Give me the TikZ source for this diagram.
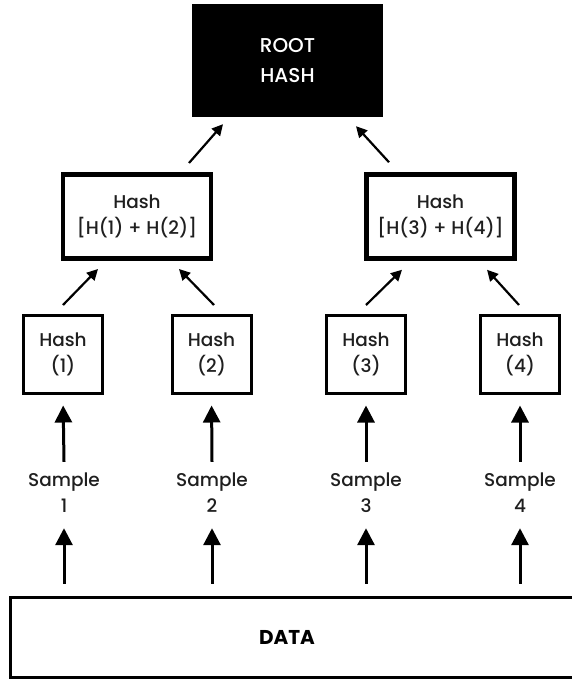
\documentclass[tikz,border=0pt]{standalone}
\usepackage{fontspec}
\setmainfont{Poppins}[UprightFont=* Medium, BoldFont=* Bold]
\usetikzlibrary{arrows.meta}
\begin{document}
\begin{tikzpicture}[x=1pt,y=1pt,
  txt/.style={font=\fontsize{18.5}{26}\selectfont, text=black!88},
  leafbox/.style={txt, draw, line width=3pt, minimum width=79pt, minimum height=78pt, inner sep=0pt, align=center},
  midbox/.style={txt, draw, line width=4.5pt, minimum width=148pt, minimum height=84pt, inner sep=0pt, align=center},
  rootbox/.style={fill=black, text=white, font=\fontsize{20}{30}\selectfont, minimum width=191pt, minimum height=113pt, inner sep=0pt, align=center},
  samplelabel/.style={txt, minimum height=62pt, inner sep=0pt, align=center},
  databox/.style={draw, line width=3pt, minimum width=590pt, minimum height=80pt, inner sep=0pt},
  bigarrow/.style={line width=3pt, -{Triangle[length=17pt,width=17pt]}},
  diagarrow/.style={line width=2.2pt, -{Triangle[length=11pt,width=11pt]}}
]
\useasboundingbox (0,0) rectangle (572,-679);

\node[rootbox] (root) at (287.5,-60.5) {ROOT\\HASH};

\node[midbox] (m1) at (137,-216.5) {Hash\\{[}H(1) + H(2)]};
\node[midbox] (m2) at (440.5,-216.5) {Hash\\{[}H(3) + H(4)]};

\node[leafbox] (h1) at (63,-354) {Hash\\(1)};
\node[leafbox] (h2) at (211.5,-354) {Hash\\(2)};
\node[leafbox] (h3) at (366,-354) {Hash\\(3)};
\node[leafbox] (h4) at (520,-354) {Hash\\(4)};

\node[samplelabel] (s1) at (64,-493) {Sample\\1};
\node[samplelabel] (s2) at (212,-493) {Sample\\2};
\node[samplelabel] (s3) at (366,-493) {Sample\\3};
\node[samplelabel] (s4) at (520,-493) {Sample\\4};

\node[databox, label={[xshift=-18pt, font=\fontsize{20}{22}\selectfont\bfseries]center:DATA}] (data) at (305,-637) {};

% data -> samples
\foreach \s in {s1,s2,s3,s4}{
  \draw[bigarrow, shorten <=12pt, shorten >=4pt] (data.north -| \s) -- (\s.south);
}
% samples -> leaf hashes
\draw[bigarrow, shorten >=11pt] (s1.north) -- (h1.south);
\draw[bigarrow, shorten >=11pt] (s2.north) -- (h2.south);
\draw[bigarrow, shorten >=11pt] (s3.north) -- (h3.south);
\draw[bigarrow, shorten >=11pt] (s4.north) -- (h4.south);

% leaf hashes -> middle hashes
\draw[diagarrow] ([shift={(0,8.5)}]h1.north) -- ([shift={(-39,-8.25)}]m1.south);
\draw[diagarrow] ([shift={(2.5,8.5)}]h2.north) -- ([shift={(42,-8.25)}]m1.south);
\draw[diagarrow] ([shift={(0,8.5)}]h3.north) -- ([shift={(-38.5,-9)}]m2.south);
\draw[diagarrow] ([shift={(-1,8.5)}]h4.north) -- ([shift={(46.5,-9)}]m2.south);

% middle hashes -> root
\draw[diagarrow] ([shift={(52,9.25)}]m1.north) -- ([shift={(-64.5,-7)}]root.south);
\draw[diagarrow] ([shift={(-51.5,10)}]m2.north) -- ([shift={(68.5,-9)}]root.south);
\end{tikzpicture}
\end{document}
